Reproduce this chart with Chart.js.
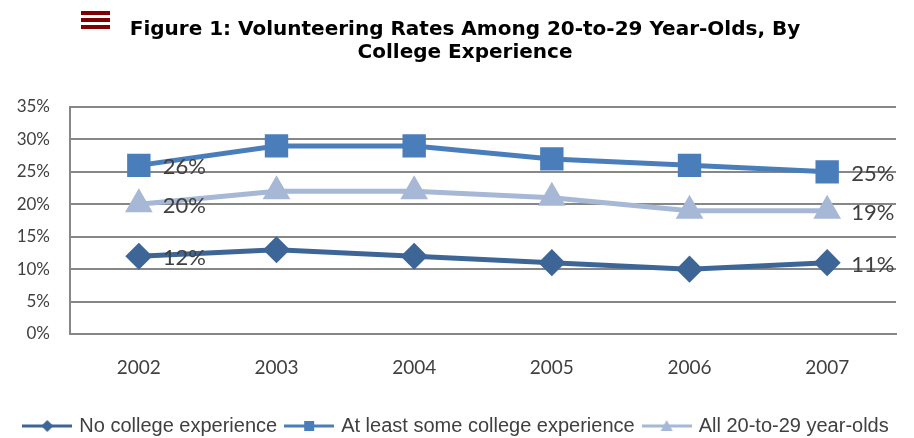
<!DOCTYPE html>
<html>
<head>
<meta charset="utf-8">
<script src="https://cdn.jsdelivr.net/npm/chart.js@4.4.0/dist/chart.umd.min.js"></script>
<style>
  html, body { margin: 0; padding: 0; background: #fff; }
  #wrap { position: relative; width: 914px; height: 438px; }
  #icon { position: absolute; left: 81px; top: 11px; width: 29px; }
  #icon div { height: 4px; background: #800000; margin-bottom: 3px; }
  #title { position: absolute; left: 115px; top: 17px; width: 700px; text-align: center;
           font: bold 20px "DejaVu Sans", Verdana, sans-serif; line-height: 23px; color: #000; white-space: nowrap; }
</style>
</head>
<body>
<div id="wrap">
  <canvas id="chart" width="914" height="438"></canvas>
  <div id="icon"><div></div><div></div><div></div></div>
  <div id="title">Figure 1: Volunteering Rates Among 20-to-29 Year-Olds, By<br>College Experience</div>
</div>
<script>
// data
const years = ['2002', '2003', '2004', '2005', '2006', '2007'];
const noCollege = [12, 13, 12, 11, 10, 11];
const someCollege = [26, 29, 29, 27, 26, 25];
const allYouth = [20, 22, 22, 21, 19, 19];

const colNo = '#3D6697';
const colSome = '#4A7EBB';
const colAll = '#A6B8D6';

// small line+marker swatch for the legend
function swatch(color, style) {
    const c = document.createElement('canvas');
    c.width = 50; c.height = 16;
    const g = c.getContext('2d');
    g.strokeStyle = color;
    g.lineWidth = 3;
    g.beginPath(); g.moveTo(0, 8); g.lineTo(50, 8); g.stroke();
    g.fillStyle = color;
    g.beginPath();
    if (style === 'diamond') {
        g.moveTo(25, 2); g.lineTo(31, 8); g.lineTo(25, 14); g.lineTo(19, 8);
    } else if (style === 'square') {
        g.rect(20, 3, 10, 10);
    } else {
        g.moveTo(25, 2); g.lineTo(31, 13); g.lineTo(19, 13);
    }
    g.closePath(); g.fill();
    return c;
}

// value labels at first and last points
const endLabels = {
    id: 'endLabels',
    afterDatasetsDraw(chart) {
        const ctx = chart.ctx;
        ctx.save();
        ctx.font = '22px Lato, "Liberation Sans", sans-serif';
        ctx.fillStyle = '#404040';
        ctx.textBaseline = 'middle';
        ctx.textAlign = 'left';
        chart.data.datasets.forEach((ds, i) => {
            const meta = chart.getDatasetMeta(i);
            [0, ds.data.length - 1].forEach(j => {
                const pt = meta.data[j];
                ctx.fillText(ds.data[j] + '%', pt.x + 24, pt.y + 2);
            });
        });
        ctx.restore();
    }
};

const ctx = document.getElementById('chart').getContext('2d');
new Chart(ctx, {
    type: 'line',
    data: {
        labels: years,
        datasets: [{
            label: 'No college experience',
            data: noCollege,
            borderColor: colNo,
            backgroundColor: colNo,
            borderWidth: 5,
            pointStyle: 'rectRot',
            pointRadius: 10,
            legendSwatch: swatch(colNo, 'diamond')
        }, {
            label: 'At least some college experience',
            data: someCollege,
            borderColor: colSome,
            backgroundColor: colSome,
            borderWidth: 5,
            pointStyle: 'rect',
            pointRadius: 13,
            legendSwatch: swatch(colSome, 'square')
        }, {
            label: 'All 20-to-29 year-olds',
            data: allYouth,
            borderColor: colAll,
            backgroundColor: colAll,
            borderWidth: 5,
            pointStyle: 'triangle',
            pointRadius: 11,
            legendSwatch: swatch(colAll, 'triangle')
        }]
    },
    options: {
        responsive: false,
        animation: false,
        layout: { padding: { top: 107, right: 0, left: 0, bottom: -8 } },
        plugins: {
            title: { display: false },
            legend: {
                position: 'bottom',
                labels: {
                    usePointStyle: true,
                    pointStyleWidth: 44,
                    color: '#404040',
                    font: { family: '"Liberation Sans", Arial, sans-serif', size: 20 },
                    padding: 10,
                    generateLabels(chart) {
                        return chart.data.datasets.map((ds, i) => ({
                            text: ds.label,
                            pointStyle: ds.legendSwatch,
                            fillStyle: ds.borderColor,
                            strokeStyle: ds.borderColor,
                            lineWidth: 0,
                            fontColor: '#404040',
                            datasetIndex: i
                        }));
                    }
                }
            },
            tooltip: { enabled: false }
        },
        scales: {
            x: {
                offset: true,
                grid: { display: false },
                border: { color: '#878787', width: 2 },
                ticks: {
                    color: '#404040',
                    font: { family: 'Lato, "Liberation Sans", sans-serif', size: 19 },
                    padding: 14
                },
                afterFit(s) { s.height = 72; }
            },
            y: {
                min: 0,
                max: 35,
                grid: { color: '#878787', lineWidth: 2, drawTicks: false },
                border: { color: '#878787', width: 2 },
                ticks: {
                    stepSize: 5,
                    color: '#404040',
                    font: { family: 'Lato, "Liberation Sans", sans-serif', size: 17 },
                    padding: 20,
                    callback: v => v + '%'
                },
                afterFit(s) { s.width = 70; }
            },
            // empty right-hand spacer so the legend can use the full width
            spacer: {
                position: 'right',
                min: 0,
                max: 35,
                grid: { display: false },
                border: { display: false },
                ticks: { display: false },
                afterFit(s) { s.width = 12; }
            }
        }
    },
    plugins: [endLabels]
});
</script>
</body>
</html>
